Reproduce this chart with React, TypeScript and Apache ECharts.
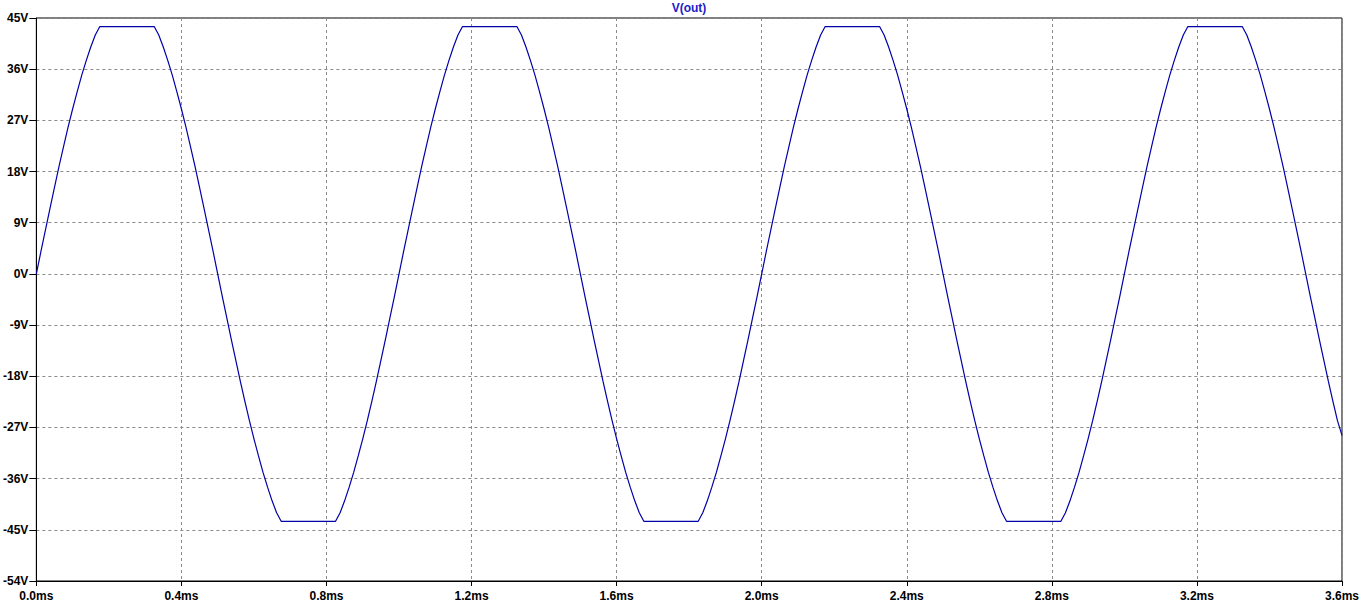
import React, { useEffect, useRef } from "react";
import * as echarts from "echarts";

const TITLE = "V(out)";
const SAMPLE_STEP_MS = 0.0125;
// V(out), one sample every 0.0125 ms
const cycle1V = [
  0, 3.9, 7.7, 11.5, 15.2, 18.9, 22.4, 25.8, 29.0, 32.0, 34.9, 37.5, 39.9, 42.0,
  43.5, 43.5, 43.5, 43.5, 43.5, 43.5, 43.5, 43.5, 43.5, 43.5, 43.5, 43.5, 43.5,
  42.0, 39.9, 37.5, 34.9, 32.0, 29.0, 25.8, 22.4, 18.9, 15.2, 11.5, 7.7, 3.9,
  0, -3.9, -7.7, -11.5, -15.2, -18.9, -22.4, -25.8, -29.0, -32.0, -34.9, -37.5, -39.9, -42.0,
  -43.5, -43.5, -43.5, -43.5, -43.5, -43.5, -43.5, -43.5, -43.5, -43.5, -43.5, -43.5, -43.5,
  -42.0, -39.9, -37.5, -34.9, -32.0, -29.0, -25.8, -22.4, -18.9, -15.2, -11.5, -7.7, -3.9,
];
const cycle2V = [
  0, 3.9, 7.7, 11.5, 15.2, 18.9, 22.4, 25.8, 29.0, 32.0, 34.9, 37.5, 39.9, 42.0,
  43.5, 43.5, 43.5, 43.5, 43.5, 43.5, 43.5, 43.5, 43.5, 43.5, 43.5, 43.5, 43.5,
  42.0, 39.9, 37.5, 34.9, 32.0, 29.0, 25.8, 22.4, 18.9, 15.2, 11.5, 7.7, 3.9,
  0, -3.9, -7.7, -11.5, -15.2, -18.9, -22.4, -25.8, -29.0, -32.0, -34.9, -37.5, -39.9, -42.0,
  -43.5, -43.5, -43.5, -43.5, -43.5, -43.5, -43.5, -43.5, -43.5, -43.5, -43.5, -43.5, -43.5,
  -42.0, -39.9, -37.5, -34.9, -32.0, -29.0, -25.8, -22.4, -18.9, -15.2, -11.5, -7.7, -3.9,
];
const cycle3V = [
  0, 3.9, 7.7, 11.5, 15.2, 18.9, 22.4, 25.8, 29.0, 32.0, 34.9, 37.5, 39.9, 42.0,
  43.5, 43.5, 43.5, 43.5, 43.5, 43.5, 43.5, 43.5, 43.5, 43.5, 43.5, 43.5, 43.5,
  42.0, 39.9, 37.5, 34.9, 32.0, 29.0, 25.8, 22.4, 18.9, 15.2, 11.5, 7.7, 3.9,
  0, -3.9, -7.7, -11.5, -15.2, -18.9, -22.4, -25.8, -29.0, -32.0, -34.9, -37.5, -39.9, -42.0,
  -43.5, -43.5, -43.5, -43.5, -43.5, -43.5, -43.5, -43.5, -43.5, -43.5, -43.5, -43.5, -43.5,
  -42.0, -39.9, -37.5, -34.9, -32.0, -29.0, -25.8, -22.4, -18.9, -15.2, -11.5, -7.7, -3.9,
];
const tailV = [
  0, 3.9, 7.7, 11.5, 15.2, 18.9, 22.4, 25.8, 29.0, 32.0, 34.9, 37.5, 39.9, 42.0,
  43.5, 43.5, 43.5, 43.5, 43.5, 43.5, 43.5, 43.5, 43.5, 43.5, 43.5, 43.5, 43.5,
  42.0, 39.9, 37.5, 34.9, 32.0, 29.0, 25.8, 22.4, 18.9, 15.2, 11.5, 7.7, 3.9,
  0, -3.9, -7.7, -11.5, -15.2, -18.9, -22.4, -25.8, -28.4,
];

const X_MIN = 0;
const X_MAX = 3.6;
const X_STEP = 0.4;
const Y_MIN = -54;
const Y_MAX = 45;
const Y_STEP = 9;

export default function App() {
  const ref = useRef<HTMLDivElement>(null);
  useEffect(() => {
    if (!ref.current) return;
    const chart = echarts.init(ref.current, null, { renderer: "svg" });
    const volts = [...cycle1V, ...cycle2V, ...cycle3V, ...tailV];
    const data = volts.map((v, i) => [+(i * SAMPLE_STEP_MS).toFixed(4), v]);
    const labelFont = {
      color: "#000",
      fontFamily: "Liberation Sans, Arial, sans-serif",
      fontWeight: "bold" as const,
      fontSize: 12,
    };
    chart.setOption({
      animation: false,
      backgroundColor: "#fff",
      title: {
        text: TITLE,
        left: 689,
        textAlign: "center",
        top: 2,
        padding: 0,
        textStyle: {
          color: "#2020c8",
          fontFamily: "Liberation Sans, Arial, sans-serif",
          fontWeight: "bold",
          fontSize: 12,
        },
      },
      grid: {
        left: 36,
        right: 20,
        top: 18,
        bottom: 25,
        show: true,
        borderColor: "#000",
        borderWidth: 1,
        backgroundColor: "transparent",
      },
      xAxis: {
        type: "value",
        min: X_MIN,
        max: X_MAX,
        interval: X_STEP,
        axisLine: { show: true, onZero: false, lineStyle: { color: "#000", width: 1 } },
        axisTick: { show: true, length: 5, lineStyle: { color: "#000" } },
        axisLabel: {
          ...labelFont,
          margin: 9,
          formatter: (v: number) => `${v.toFixed(1)}ms`,
        },
        splitLine: {
          show: true,
          lineStyle: { color: "#8a8a8a", type: [3, 3], width: 1 },
        },
      },
      yAxis: {
        type: "value",
        min: Y_MIN,
        max: Y_MAX,
        interval: Y_STEP,
        axisLine: { show: true, onZero: false, lineStyle: { color: "#000", width: 1 } },
        axisTick: { show: true, length: 7, lineStyle: { color: "#000" } },
        axisLabel: {
          ...labelFont,
          margin: 8,
          formatter: (v: number) => `${v}V`,
        },
        splitLine: {
          show: true,
          lineStyle: { color: "#8a8a8a", type: [3, 3], width: 1 },
        },
      },
      series: [
        {
          type: "line",
          data,
          showSymbol: false,
          symbol: "none",
          lineStyle: { color: "#0000a8", width: 1.2 },
          z: 5,
        },
      ],
    });
    return () => chart.dispose();
  }, []);
  return (
    <div
      ref={ref}
      style={{ position: "fixed", left: 0, top: 0, width: 1362, height: 606 }}
    />
  );
}
